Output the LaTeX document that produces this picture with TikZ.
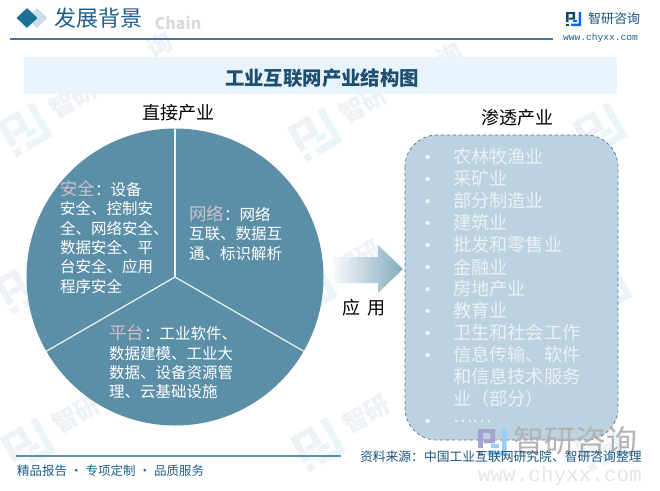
\documentclass[tikz,border=0pt]{standalone}
\usepackage{fontspec}
\setmainfont{Noto Sans CJK SC}
\newfontfamily\urlfont{Liberation Mono}
\usetikzlibrary{shapes.geometric}
\definecolor{navy}{HTML}{1F5F8B}
\definecolor{titleink}{HTML}{1D4F70}
\definecolor{rulecol}{HTML}{3F77A0}
\definecolor{bandcol}{HTML}{E8F3FB}
\definecolor{piecol}{HTML}{5B8FA8}
\definecolor{labcol}{HTML}{CDBFCC}
\definecolor{boxcol}{HTML}{BDD2E0}
\definecolor{dashcol}{HTML}{4A6F8F}
\definecolor{boxtext}{HTML}{EAF1F6}
\definecolor{wmcol}{HTML}{EEF1F5}
\definecolor{wmcyan}{HTML}{E9F5F9}
\newcommand{\lab}[1]{\textcolor{labcol}{\fontsize{17.5}{19.3}\selectfont #1}}
\tikzset{
  x=1pt,y=-1pt,
  txt/.style={inner sep=0pt,outer sep=0pt,anchor=west,align=left},
  pietxt/.style={txt,text=white,font=\fontsize{15.5}{19.3}\selectfont},
  rowtxt/.style={txt,text=boxtext,font=\fontsize{18.2}{22}\selectfont},
  headtxt/.style={inner sep=0pt,text=black,font=\fontsize{18}{22}\selectfont},
  wmtxt/.style={inner sep=0pt,text=wmcol,font=\bfseries\fontsize{25}{27}\selectfont},
  spoke/.style={draw=white!90!piecol,line width=1.2pt},
  pics/logo/.style n args={2}{code={
    \fill[#1] (0,0) -- (9,0) -- (9,7.5) -- (3,7.5) -- (3,5.5) -- (6.5,5.5) -- (6.5,2) -- (2.5,2) -- (2.5,10) -- (0,10) -- cycle;
    \fill[#1] (0,11.5) rectangle (2.5,14);
    \fill[#2] (12.5,0) -- (15,0) -- (15,14) -- (5,14) -- (5,11.5) -- (12.5,11.5) -- cycle;
    \fill[#2] (11,8) rectangle (7,10);
  }},
}
\newcommand{\wmark}[3]{%
  \begin{scope}[shift={(#1,#2)},rotate=30,transform shape]
    \pic[scale=2.8] at (-21,-20) {logo={wmcol}{wmcyan}};
    \node[wmtxt,anchor=west] at (32,-3) {#3};
  \end{scope}}
\begin{document}
\begin{tikzpicture}
\useasboundingbox (0,0) rectangle (660,490);
\fill[white] (0,0) rectangle (660,490);
% faint background marks
\wmark{25}{130}{智研}\wmark{315}{135}{智研}\wmark{600}{130}{}
\wmark{22}{288}{智研}\wmark{310}{290}{智研}\wmark{605}{290}{}
\wmark{28}{445}{智研}\wmark{318}{445}{智研}\wmark{600}{445}{}
\node[wmtxt,rotate=30] (wmq1) at (160,45) {询};
\node[wmtxt,rotate=30] (wmq2) at (450,55) {询};
\node[inner sep=0pt,text=wmcol!80!gray,font=\bfseries\fontsize{16}{18}\selectfont] (chain) at (178,23) {Chain};
% header
\node[diamond,fill=navy!22,minimum width=21pt,minimum height=20pt,inner sep=0pt] (dback) at (37,18) {};
\node[diamond,fill=navy!90!cyan,minimum width=21pt,minimum height=20pt,inner sep=0pt] (dfront) at (27,18) {};
\node[txt,text=navy,font=\fontsize{22}{24}\selectfont] (head) at (54,18) {发展背景};
\coordinate (ruleL) at (10,39);\coordinate (ruleR) at (553,39);
\draw[rulecol,line width=1.1pt] (ruleL) -- (ruleR);
\pic at (566,12) {logo={navy!75!black}{blue!60!cyan}};
\node[txt,text=navy!85!black,font=\fontsize{13}{15}\selectfont] (brand) at (588,19) {智研咨询};
\node[txt,text=navy,font=\urlfont\fontsize{9.6}{11}\selectfont] (url) at (563,38) {www.chyxx.com};
% title band
\fill[bandcol] (24,57) rectangle (617,94);
\node[inner sep=0pt,text=titleink,font=\bfseries\fontsize{19.4}{22}\selectfont] (title) at (322,78) {工业互联网产业结构图};
% pie
\coordinate (c) at (175,277);
\fill[piecol] (c) circle (148.5);
\coordinate (sTop) at (175,128.5);
\coordinate (sL) at (46.4,351.2);
\coordinate (sR) at (303.6,351.2);
\draw[spoke] (c) -- (sTop);
\draw[spoke] (c) -- (sL);
\draw[spoke] (c) -- (sR);
\node[headtxt] (direct) at (178,113) {直接产业};
\node[pietxt] (sec) at (60,237) {\lab{安全}：设备\\安全、控制安\\全、网络安全、\\数据安全、平\\台安全、应用\\程序安全};
\node[pietxt] (net) at (189,233) {\lab{网络}：网络\\互联、数据互\\通、标识解析};
\node[pietxt] (plat) at (109,362) {\lab{平台}：工业软件、\\数据建模、工业大\\数据、设备资源管\\理、云基础设施};
% arrow
\shade[left color=white!85!boxcol,right color=piecol!75!white] (334,257) -- (378,257) -- (378,245) -- (403,269) -- (378,293) -- (378,283) -- (334,283) -- cycle;
\node[headtxt] (apply) at (364,308) {应\hspace{8pt}用};
% right box
\node[headtxt] (perm) at (517,118) {渗透产业};
\draw[fill=boxcol,draw=dashcol,dashed,line width=.7pt,rounded corners=32pt] (405,135) rectangle (618,440);
\foreach \yy/\tt [count=\i] in {157/农林牧渔业,179/采矿业,201/部分制造业,223/建筑业,245/批发和零售业,267/金融业,289/房地产业,311/教育业,333/卫生和社会工作,355/信息传输、软件,421/……}{
  \fill[boxtext] (427.5,\yy) circle (2.2);
  \node[rowtxt] (row\i) at (453,\yy) {\tt};
}
\node[rowtxt] (row12) at (453,377) {和信息技术服务};
\node[rowtxt] (row13) at (453,399) {业（部分）};
% bottom watermark
\pic[scale=1.9] at (478,429) {logo={blue!30!gray!55}{blue!50!cyan!40}};
\node[txt,text=gray!60,font=\fontsize{31}{36}\selectfont] (wmbig) at (513,441) {智研咨询};
\node[txt,text=gray!20,font=\urlfont\fontsize{21}{24}\selectfont] (wmurl) at (478,476) {www.chyxx.com};
% footer
\coordinate (footL) at (16,456);\coordinate (footR) at (341,456);
\draw[piecol,line width=1.4pt] (footL) -- (footR);
\node[txt,text=navy,font=\fontsize{12.5}{15}\selectfont] (slogan) at (17,471) {精品报告\hspace{3pt}·\hspace{3pt}专项定制\hspace{3pt}·\hspace{3pt}品质服务};
\node[txt,text=navy!90!black,font=\fontsize{12.8}{15}\selectfont] (source) at (360,457) {资料来源：中国工业互联网研究院、智研咨询整理};
\end{tikzpicture}
\end{document}
